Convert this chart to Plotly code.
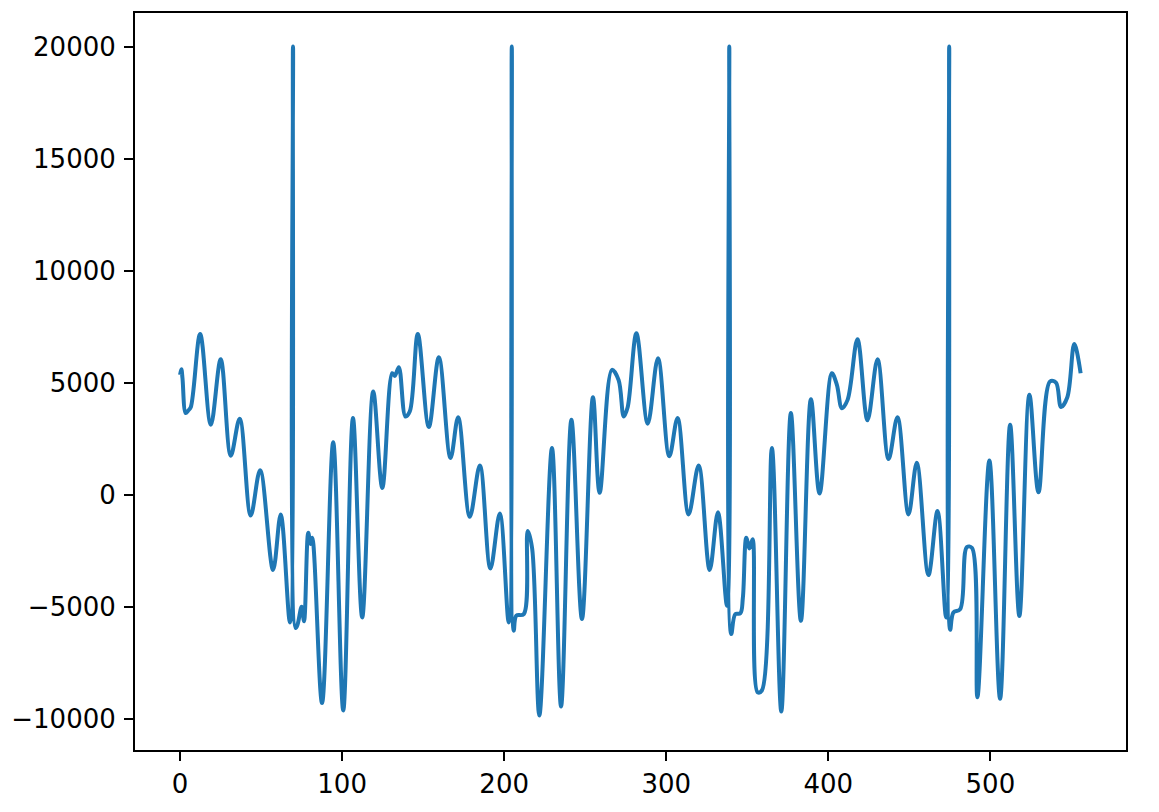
import plotly.graph_objects as go

# Vertices (sample index, value)
sample_idx = [0.0, 0.8, 1.5, 3.5, 5.0, 6.6, 12.4, 19.0, 25.1, 31.3, 36.8, 43.6, 49.4, 57.4, 62.1, 67.8,
              69.7, 71.3, 72.5, 75.0, 76.5, 79.1, 80.5, 81.6, 87.6, 94.5, 100.7, 106.7, 112.4, 119.2,
              124.8, 130.9, 132.5, 135.0, 139.1, 141.8, 146.7, 153.5, 159.7, 166.9, 171.6, 178.8,
              185.0, 191.5, 197.3, 202.8, 204.7, 205.9, 207.5, 212.1, 214.5, 217.2, 221.7, 229.5,
              235.1, 241.5, 248.0, 254.8, 258.9, 266.5, 270.6, 273.8, 276.2, 281.6, 288.6, 294.9,
              301.9, 307.0, 313.8, 320.0, 326.8, 331.9, 337.5, 338.9, 340.1, 342.6, 345.7, 347.3,
              349.4, 351.3, 353.3, 356.4, 359.0, 365.2, 371.0, 376.9, 383.1, 389.3, 394.6, 402.2,
              405.3, 408.4, 411.9, 418.0, 424.2, 430.4, 437.2, 442.7, 449.5, 454.6, 461.8, 467.4,
              472.7, 474.6, 475.2, 477.2, 481.4, 485.5, 488.6, 492.0, 499.4, 506.0, 512.2, 517.9,
              524.1, 529.7, 536.8, 540.5, 543.6, 547.5, 551.8, 555.7]
signal = [5350, 5600, 5200, 3640, 3750, 3900, 7170, 3120, 6040, 1740, 3390, -930, 1090, -3360, -880, -5700,
          20000, -5950, -5800, -5000, -5650, -1700, -2200, -1920, -9300, 2340, -9630, 3420, -5480, 4600,
          300, 5420, 5300, 5690, 3490, 3720, 7170, 3020, 6130, 1640, 3450, -990,
          1300, -3300, -840, -5700, 20000, -6070, -5400, -5330, -1620, -2370, -9850, 2080,
          -9450, 3340, -5550, 4350, 80, 5570, 5120, 3490, 3900, 7200, 3170, 6090,
          1710, 3420, -880, 1300, -3360, -780, -4960, 20000, -6220, -5330, -5300, -4590,
          -1920, -2400, -1990, -8820, -8740, 2080, -9680, 3640, -5630, 4260, 50, 5420,
          4900, 3860, 4230, 6930, 3320, 6040, 1590, 3460, -880, 1420, -3590, -730,
          -5480, 20000, -6030, -5260, -5110, -2340, -2370, -9040, 1520, -9110, 3120, -5410,
          4460, 110, 5050, 5000, 3910, 4350, 6720, 5420]

x_ticks = [0, 100, 200, 300, 400, 500]
y_ticks = [-10000, -5000, 0, 5000, 10000, 15000, 20000]

fig = go.Figure()
fig.add_trace(go.Scatter(
    x=sample_idx, y=signal, mode="lines",
    line=dict(color="#1f77b4", width=4, shape="spline", smoothing=1.0),
    showlegend=False, hoverinfo="skip",
))

axis_common = dict(
    showgrid=False, zeroline=False, showline=True, mirror=True, automargin=False,
    linecolor="black", linewidth=2, ticks="outside", ticklen=9, tickwidth=2,
    tickcolor="black", tickfont=dict(family="DejaVu Sans", size=26, color="black"),
)
fig.update_xaxes(range=[-27.8, 583.7], tickvals=x_ticks, ticktext=[str(v) for v in x_ticks],
                 ticklabelstandoff=1, **axis_common)
fig.update_yaxes(range=[-11395, 21495], tickvals=y_ticks,
                 ticktext=[("\u2212" + str(-v)) if v < 0 else str(v) for v in y_ticks],
                 ticklabelstandoff=3, **axis_common)

# page body has an 8px margin, so the figure is sized to fit the 1159x812 window
fig.update_layout(
    width=1151, height=804, autosize=False,
    margin=dict(l=127, r=33, t=5, b=62, pad=0),
    paper_bgcolor="white", plot_bgcolor="white",
)
fig.write_html("out.html")
